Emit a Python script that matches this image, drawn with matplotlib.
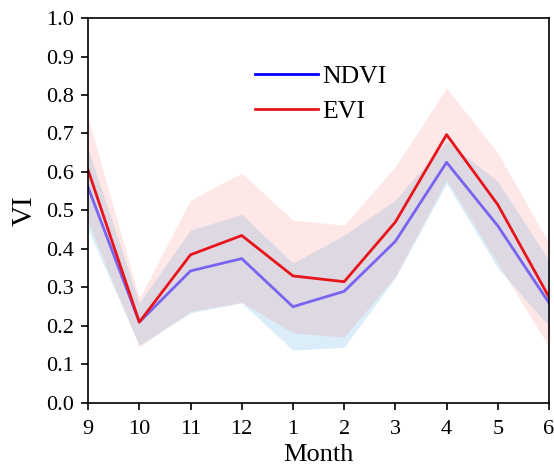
import matplotlib.pyplot as plt
import numpy as np
from matplotlib.lines import Line2D

plt.rcParams['font.family'] = ['Liberation Serif', 'DejaVu Serif']

# months of the growing season, Sept -> June
months = ['9', '10', '11', '12', '1', '2', '3', '4', '5', '6']

ndvi = [0.56, 0.21, 0.343, 0.375, 0.25, 0.29, 0.42, 0.625, 0.46, 0.26]
ndvi_low = [0.45, 0.15, 0.234, 0.26, 0.137, 0.145, 0.325, 0.57, 0.35, 0.20]
ndvi_high = [0.66, 0.26, 0.449, 0.49, 0.363, 0.436, 0.527, 0.68, 0.575, 0.37]

evi = [0.605, 0.21, 0.385, 0.435, 0.33, 0.315, 0.47, 0.697, 0.515, 0.275]
evi_low = [0.47, 0.146, 0.238, 0.262, 0.182, 0.171, 0.33, 0.58, 0.363, 0.146]
evi_high = [0.74, 0.272, 0.527, 0.597, 0.475, 0.462, 0.614, 0.818, 0.649, 0.415]

x = np.arange(len(months))

fig = plt.figure(figsize=(5.54, 4.68), dpi=100)
ax = fig.add_axes([0.159, 0.139, 0.832, 0.8225])

ax.fill_between(x, ndvi_low, ndvi_high, color='#87c4ec', alpha=0.3, lw=0)
ax.fill_between(x, evi_low, evi_high, color='#f26060', alpha=0.15, lw=0)
ax.plot(x, ndvi, color='#7864f0', lw=2)
ax.plot(x, evi, color='#e8141c', lw=2)

ax.set_xlim(0, len(months) - 1)
ax.set_ylim(0, 1.0)
ax.set_xticks(x)
ax.set_xticklabels(months)
ax.set_yticks(np.arange(0, 1.01, 0.1))
ax.set_yticklabels([f'{v:.1f}' for v in np.arange(0, 1.01, 0.1)])
ax.tick_params(direction='out', length=5, width=1.2, labelsize=16)
ax.tick_params(axis='x', pad=7)
ax.tick_params(axis='y', pad=5)
for s in ax.spines.values():
    s.set_linewidth(1.2)

ax.set_xlabel('Month', fontsize=19, labelpad=4)
ax.set_ylabel('VI', fontsize=21, labelpad=6)

handles = [Line2D([], [], color='#0000ff', lw=2), Line2D([], [], color='#e8141c', lw=2)]
ax.legend(handles, ['NDVI', 'EVI'], loc='center', bbox_to_anchor=(0.505, 0.803),
          frameon=False, fontsize=18.5, handlelength=2.45, handletextpad=0.2,
          labelspacing=0.45)

fig.savefig('out.png', dpi=100)
